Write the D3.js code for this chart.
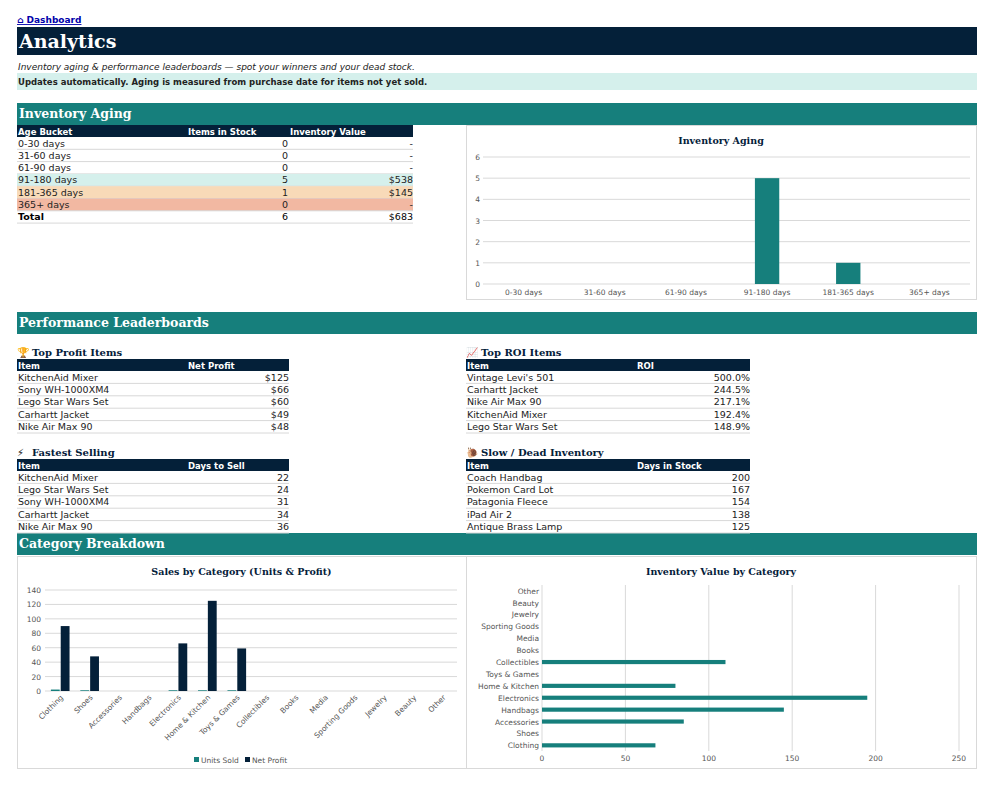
<!DOCTYPE html>
<html><head><meta charset="utf-8">
<script src="https://cdn.jsdelivr.net/npm/d3@7"></script>
<style>
body{margin:0;background:#fff;font-family:"DejaVu Sans",sans-serif;}
svg{display:block}
</style></head><body>
<svg id="c" width="993" height="785"></svg>
<script>
const agingBuckets=["0-30 days","31-60 days","61-90 days","91-180 days","181-365 days","365+ days"];
const agingItems=[0,0,0,5,1,0];
const agingValue=["-","-","-","$538","$145","-"];
const agingTotal=["Total","6","$683"];
const profitItems=["KitchenAid Mixer","Sony WH-1000XM4","Lego Star Wars Set","Carhartt Jacket","Nike Air Max 90"];
const profitVals=["$125","$66","$60","$49","$48"];
const roiItems=["Vintage Levi's 501","Carhartt Jacket","Nike Air Max 90","KitchenAid Mixer","Lego Star Wars Set"];
const roiVals=["500.0%","244.5%","217.1%","192.4%","148.9%"];
const fastItems=["KitchenAid Mixer","Lego Star Wars Set","Sony WH-1000XM4","Carhartt Jacket","Nike Air Max 90"];
const fastVals=[22,24,31,34,36];
const slowItems=["Coach Handbag","Pokemon Card Lot","Patagonia Fleece","iPad Air 2","Antique Brass Lamp"];
const slowVals=[200,167,154,138,125];
const categories=["Clothing","Shoes","Accessories","Handbags","Electronics","Home & Kitchen","Toys & Games","Collectibles","Books","Media","Sporting Goods","Jewelry","Beauty","Other"];
const unitsSold=[2,1,0,0,1,1,1,0,0,0,0,0,0,0];
const netProfit=[90,48,0,0,66,125,59,0,0,0,0,0,0,0];
const invValue=[68,0,85,145,195,80,0,110,0,0,0,0,0,0];

const svg=d3.select("#c");
const NAVY="#042039",TEAL="#167f7c",SERIF="'DejaVu Serif',serif";
function text(x,y,t,o={}){return svg.append("text").attr("x",x).attr("y",y).text(t)
 .attr("font-size",o.s||9).attr("font-weight",o.w||"normal").attr("fill",o.f||"#222")
 .attr("font-family",o.ff||"'DejaVu Sans',sans-serif").attr("text-anchor",o.a||"start").attr("font-style",o.i||"normal");}
text(17,23,"⌂ Dashboard",{s:9,w:"bold",f:"#0000aa"}).attr("text-decoration","underline");
svg.append("rect").attr("x",17).attr("y",27).attr("width",960).attr("height",28).attr("fill",NAVY);
text(19,48,"Analytics",{s:19,w:"bold",f:"#fff",ff:SERIF});
text(18,70,"Inventory aging & performance leaderboards — spot your winners and your dead stock.",{s:9,i:"italic"});
svg.append("rect").attr("x",17).attr("y",73).attr("width",960).attr("height",17).attr("fill","#d5f0ec");
text(18,85,"Updates automatically. Aging is measured from purchase date for items not yet sold.",{s:8.5,w:"bold"});
function section(y,t){svg.append("rect").attr("x",17).attr("y",y).attr("width",960).attr("height",22).attr("fill",TEAL);
 text(19,y+15,t,{s:12.5,w:"bold",f:"#fff",ff:SERIF});}
section(103,"Inventory Aging");section(312,"Performance Leaderboards");section(533,"Category Breakdown");

function table(x0,x1,c2,c2a,y0,heads,rows,fills,rh){
 svg.append("rect").attr("x",x0).attr("y",y0).attr("width",x1-x0).attr("height",12).attr("fill",NAVY);
 text(x0+1,y0+9.5,heads[0],{s:8.5,w:"bold",f:"#fff"});
 heads.slice(1).forEach((h,i)=>text(c2[i],y0+9.5,h,{s:8.5,w:"bold",f:"#fff"}));
 rows.forEach((r,k)=>{const y=y0+12+k*rh;
  if(fills&&fills[k])svg.append("rect").attr("x",x0).attr("y",y).attr("width",x1-x0).attr("height",rh).attr("fill",fills[k]);
  svg.append("line").attr("x1",x0).attr("x2",x1).attr("y1",y+rh).attr("y2",y+rh).attr("stroke","#d8d8d8");
  text(x0+1,y+9.5,r[0],{s:9.5,w:r.bold?"bold":"normal",f:r.bold?"#000":"#222"});
  r.slice(1).forEach((v,i)=>text(c2a[i],y+9.5,v,{s:9.5,a:"end",f:r.bold?"#000":"#222"}));
 });}
const agRows=agingBuckets.map((b,i)=>[b,String(agingItems[i]),agingValue[i]]);
const tot=agingTotal.slice();tot.bold=true;agRows.push(tot);
table(17,413,[188,290],[288,413],125,["Age Bucket","Items in Stock","Inventory Value"],agRows,[null,null,null,"#d5f0ec","#f8dab8","#f2b8a2",null],12.3);

function board(x0,x1,c2,y,title,icon,head,items,vals){
 text(x0,y,icon,{s:10});
 text(x0+15,y,title,{s:10,w:"bold",f:NAVY,ff:SERIF});
 table(x0,x1,[c2],[x1],y+3,["Item",head],items.map((d,i)=>[d,String(vals[i])]),null,12.4);}
board(17,289,188,356,"Top Profit Items","🏆","Net Profit",profitItems,profitVals);
board(466,750,637,356,"Top ROI Items","📈","ROI",roiItems,roiVals);
board(17,289,188,456,"Fastest Selling","⚡","Days to Sell",fastItems,fastVals);
board(466,750,637,456,"Slow / Dead Inventory","🐌","Days in Stock",slowItems,slowVals);

function box(x,y,w,h,t){svg.append("rect").attr("x",x+0.5).attr("y",y+0.5).attr("width",w).attr("height",h).attr("fill","#fff").attr("stroke","#d9d9d9");
 text(x+w/2,y+19,t,{s:9.5,w:"bold",f:NAVY,ff:SERIF,a:"middle"});}
const G="#d9d9d9",LT="#555";
box(466,125,510,174,"Inventory Aging");
{const x=d3.scaleBand().domain(agingBuckets).range([483,970]).paddingInner(0.7).paddingOuter(0.35);
 const y=d3.scaleLinear().domain([0,6]).range([284,157]);
 const g=svg.append("g");
 y.ticks(6).forEach(t=>{g.append("line").attr("x1",483).attr("x2",970).attr("y1",y(t)).attr("y2",y(t)).attr("stroke",G);
  text(480,y(t)+3,t,{s:7.5,f:LT,a:"end"});});
 agingBuckets.forEach((b,i)=>{g.append("rect").attr("x",x(b)).attr("y",y(agingItems[i])).attr("width",x.bandwidth()).attr("height",284-y(agingItems[i])).attr("fill",TEAL);
  text(x(b)+x.bandwidth()/2,295,b,{s:7.5,f:LT,a:"middle"});});}
box(17,556,449,212,"Sales by Category (Units & Profit)");
{const x=d3.scaleBand().domain(categories).range([45,457]).paddingInner(0.4).paddingOuter(0.2);
 const y=d3.scaleLinear().domain([0,140]).range([691,590]);
 y.ticks(7).forEach(t=>{svg.append("line").attr("x1",45).attr("x2",457).attr("y1",y(t)).attr("y2",y(t)).attr("stroke",G);
  text(41,y(t)+3,t,{s:7.5,f:LT,a:"end"});});
 const bw=x.bandwidth()/2;
 categories.forEach((c,i)=>{
  svg.append("rect").attr("x",x(c)).attr("y",y(unitsSold[i])).attr("width",bw).attr("height",691-y(unitsSold[i])).attr("fill",TEAL);
  svg.append("rect").attr("x",x(c)+bw+1).attr("y",y(netProfit[i])).attr("width",bw).attr("height",691-y(netProfit[i])).attr("fill",NAVY);
  const cx=x(c)+x.bandwidth()/2+4;
  text(cx,698,c,{s:7.5,f:LT,a:"end"}).attr("transform",`rotate(-45,${cx},698)`);
 });
 svg.append("rect").attr("x",194).attr("y",757).attr("width",5).attr("height",5).attr("fill",TEAL);
 text(201,763,"Units Sold",{s:7.5,f:LT});
 svg.append("rect").attr("x",245).attr("y",757).attr("width",5).attr("height",5).attr("fill",NAVY);
 text(252,763,"Net Profit",{s:7.5,f:LT});}
box(466,556,510,212,"Inventory Value by Category");
{const x=d3.scaleLinear().domain([0,250]).range([542,959]);
 const y=d3.scaleBand().domain(categories).range([751,585]).paddingInner(0.65).paddingOuter(0.3);
 x.ticks(5).forEach(t=>{svg.append("line").attr("x1",x(t)).attr("x2",x(t)).attr("y1",585).attr("y2",751).attr("stroke",G);
  text(x(t),761,t,{s:7.5,f:LT,a:"middle"});});
 categories.forEach((c,i)=>{
  svg.append("rect").attr("x",542).attr("y",y(c)).attr("width",x(invValue[i])-542).attr("height",y.bandwidth()).attr("fill",TEAL);
  text(539,y(c)+y.bandwidth()/2+3,c,{s:7.5,f:LT,a:"end"});});}
</script></body></html>
